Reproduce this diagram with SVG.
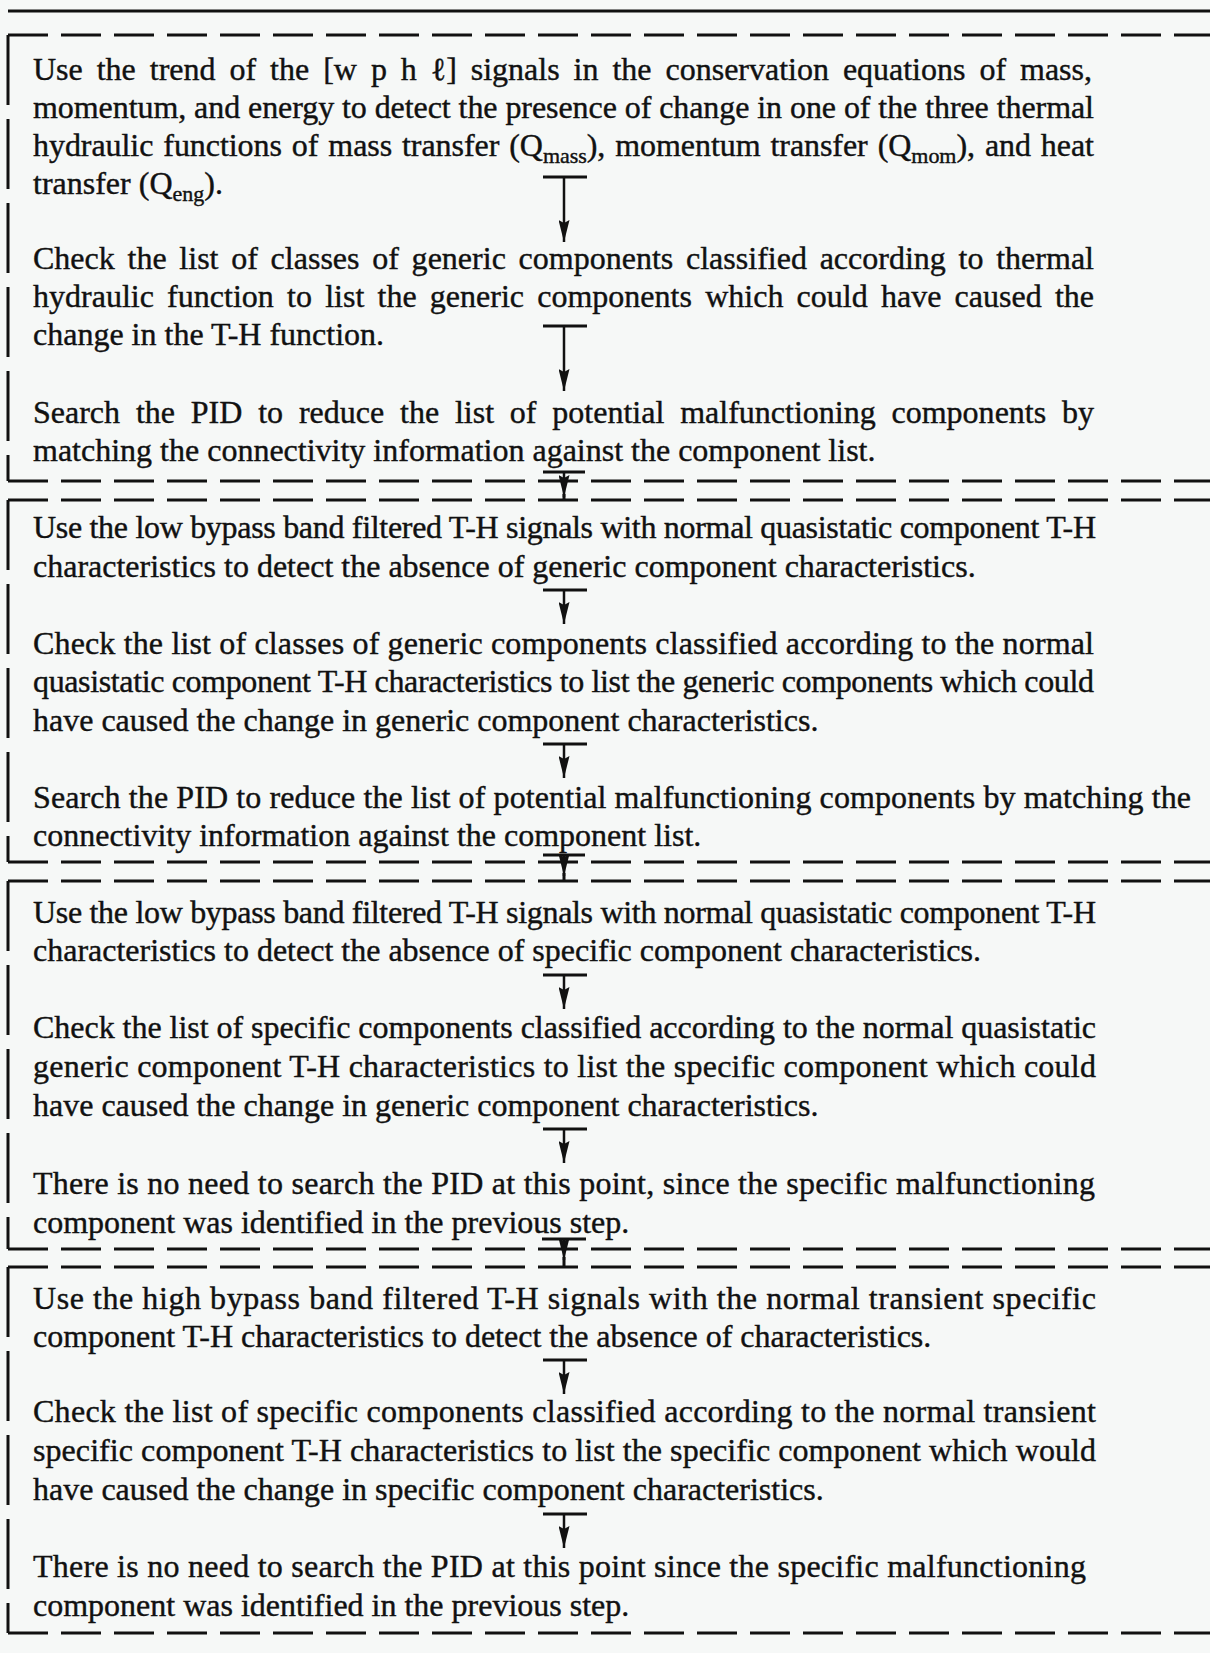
<svg xmlns="http://www.w3.org/2000/svg" width="1210" height="1653" viewBox="0 0 1210 1653">
<style>
.t{font-family:"Liberation Serif","Times New Roman",serif;font-size:32px;fill:#111;stroke:#111;stroke-width:0.4}
.sub{font-size:22px}
.dash{stroke:#111;stroke-width:3;stroke-dasharray:40 13;fill:none}
.side{stroke:#111;stroke-width:3;stroke-dasharray:70 14;fill:none}
.solid{stroke:#111;stroke-width:3;fill:none}
.bar{stroke:#111;stroke-width:3}
.shaft{stroke:#111;stroke-width:2.5;fill:none;marker-end:url(#ah)}
</style>
<defs>
<marker id="ah" markerUnits="userSpaceOnUse" markerWidth="22" markerHeight="11" viewBox="0 0 22 11" refX="22" refY="5.5" orient="auto">
<path d="M0,0 L22,5.5 L0,11 L3,5.5 z" fill="#111"/>
</marker>
</defs>
<rect width="1210" height="1653" fill="#f6f8f7"/>
<line class="solid" x1="8" y1="11" x2="1210" y2="11"/>
<g id="frames">
<g id="frame1"><path class="dash" d="M8,35 H1210"/><path class="side" d="M8,35 V481"/><path class="dash" d="M8,481 H1210"/></g>
<g id="frame2"><path class="dash" d="M8,500 H1210"/><path class="side" d="M8,500 V862"/><path class="dash" d="M8,862 H1210"/></g>
<g id="frame3"><path class="dash" d="M8,881 H1210"/><path class="side" d="M8,881 V1249"/><path class="dash" d="M8,1249 H1210"/></g>
<g id="frame4"><path class="dash" d="M8,1267 H1210"/><path class="side" d="M8,1267 V1633"/><path class="dash" d="M8,1633 H1210"/></g>
</g>
<g id="n1a" class="t">
<text x="33" y="80" textLength="1059" lengthAdjust="spacing" word-spacing="6">Use the trend of the [w p h ℓ] signals in the conservation equations of mass,</text>
<text x="33" y="118" textLength="1061" lengthAdjust="spacing">momentum, and energy to detect the presence of change in one of the three thermal</text>
<text x="33" y="156" textLength="1061" lengthAdjust="spacing" word-spacing="2">hydraulic functions of mass transfer (Q<tspan class="sub" dy="7">mass</tspan><tspan dy="-7">),</tspan> momentum transfer (Q<tspan class="sub" dy="7">mom</tspan><tspan dy="-7">),</tspan> and heat</text>
<text x="33" y="194">transfer (Q<tspan class="sub" dy="7">eng</tspan><tspan dy="-7">).</tspan></text>
</g>
<g id="n1b" class="t">
<text x="33" y="269" textLength="1061" lengthAdjust="spacing" word-spacing="4.7">Check the list of classes of generic components classified according to thermal</text>
<text x="33" y="307" textLength="1061" lengthAdjust="spacing" word-spacing="5.2">hydraulic function to list the generic components which could have caused the</text>
<text x="33" y="345">change in the T-H function.</text>
</g>
<g id="n1c" class="t">
<text x="33" y="423" textLength="1061" lengthAdjust="spacing" word-spacing="7.8">Search the PID to reduce the list of potential malfunctioning components by</text>
<text x="33" y="461">matching the connectivity information against the component list.</text>
</g>
<g id="n2a" class="t">
<text x="33" y="538" textLength="1063" lengthAdjust="spacing">Use the low bypass band filtered T-H signals with normal quasistatic component T-H</text>
<text x="33" y="577">characteristics to detect the absence of generic component characteristics.</text>
</g>
<g id="n2b" class="t">
<text x="33" y="654" textLength="1061" lengthAdjust="spacing">Check the list of classes of generic components classified according to the normal</text>
<text x="33" y="692" textLength="1061" lengthAdjust="spacing">quasistatic component T-H characteristics to list the generic components which could</text>
<text x="33" y="731">have caused the change in generic component characteristics.</text>
</g>
<g id="n2c" class="t">
<text x="33" y="808" textLength="1158" lengthAdjust="spacing">Search the PID to reduce the list of potential malfunctioning components by matching the</text>
<text x="33" y="846">connectivity information against the component list.</text>
</g>
<g id="n3a" class="t">
<text x="33" y="923" textLength="1063" lengthAdjust="spacing">Use the low bypass band filtered T-H signals with normal quasistatic component T-H</text>
<text x="33" y="961">characteristics to detect the absence of specific component characteristics.</text>
</g>
<g id="n3b" class="t">
<text x="33" y="1038" textLength="1063" lengthAdjust="spacing">Check the list of specific components classified according to the normal quasistatic</text>
<text x="33" y="1077" textLength="1063" lengthAdjust="spacing">generic component T-H characteristics to list the specific component which could</text>
<text x="33" y="1116">have caused the change in generic component characteristics.</text>
</g>
<g id="n3c" class="t">
<text x="33" y="1194" textLength="1062" lengthAdjust="spacing">There is no need to search the PID at this point, since the specific malfunctioning</text>
<text x="33" y="1233">component was identified in the previous step.</text>
</g>
<g id="n4a" class="t">
<text x="33" y="1309" textLength="1063" lengthAdjust="spacing">Use the high bypass band filtered T-H signals with the normal transient specific</text>
<text x="33" y="1347">component T-H characteristics to detect the absence of characteristics.</text>
</g>
<g id="n4b" class="t">
<text x="33" y="1422" textLength="1063" lengthAdjust="spacing">Check the list of specific components classified according to the normal transient</text>
<text x="33" y="1461" textLength="1063" lengthAdjust="spacing">specific component T-H characteristics to list the specific component which would</text>
<text x="33" y="1500">have caused the change in specific component characteristics.</text>
</g>
<g id="n4c" class="t">
<text x="33" y="1577" textLength="1053" lengthAdjust="spacing">There is no need to search the PID at this point since the specific malfunctioning</text>
<text x="33" y="1616">component was identified in the previous step.</text>
</g>
<g id="connectors">
<line class="bar" x1="543" y1="177" x2="587" y2="177"/><line class="shaft" x1="564" y1="177" x2="564" y2="242"/>
<line class="bar" x1="543" y1="326" x2="587" y2="326"/><line class="shaft" x1="564" y1="326" x2="564" y2="391"/>
<line class="bar" x1="543" y1="472" x2="585" y2="472"/><line class="shaft" x1="564" y1="472" x2="564" y2="497"/><line class="solid" x1="564" y1="494" x2="564" y2="500"/>
<line class="bar" x1="543" y1="590" x2="587" y2="590"/><line class="shaft" x1="564" y1="590" x2="564" y2="624"/>
<line class="bar" x1="543" y1="744" x2="587" y2="744"/><line class="shaft" x1="564" y1="744" x2="564" y2="778"/>
<line class="bar" x1="543" y1="855" x2="585" y2="855"/><line class="shaft" x1="564" y1="855" x2="564" y2="876"/><line class="solid" x1="564" y1="873" x2="564" y2="881"/>
<line class="bar" x1="543" y1="975" x2="587" y2="975"/><line class="shaft" x1="564" y1="975" x2="564" y2="1009"/>
<line class="bar" x1="543" y1="1129" x2="587" y2="1129"/><line class="shaft" x1="564" y1="1129" x2="564" y2="1163"/>
<line class="bar" x1="542" y1="1239" x2="586" y2="1239"/><line class="shaft" x1="564" y1="1239" x2="564" y2="1260"/><line class="solid" x1="564" y1="1257" x2="564" y2="1267"/>
<line class="bar" x1="543" y1="1360" x2="587" y2="1360"/><line class="shaft" x1="564" y1="1360" x2="564" y2="1394"/>
<line class="bar" x1="543" y1="1514" x2="587" y2="1514"/><line class="shaft" x1="564" y1="1514" x2="564" y2="1548"/>
</g>
</svg>
